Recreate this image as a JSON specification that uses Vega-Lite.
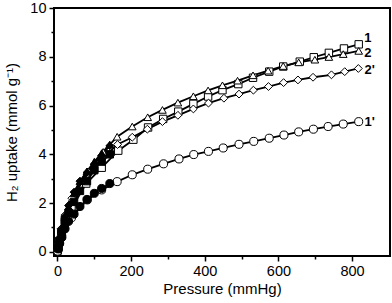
{
  "$schema": "https://vega.github.io/schema/vega-lite/v6.json",
  "width": 336,
  "height": 248,
  "autosize": "none",
  "padding": {"left": 54, "top": 8, "right": 2, "bottom": 47},
  "config": {
    "view": {"stroke": "black", "strokeWidth": 2},
    "font": "Liberation Sans",
    "axis": {"domain": false, "grid": false, "tickColor": "black", "tickWidth": 1.5, "labelColor": "black", "titleColor": "black", "labelFont": "Liberation Sans", "titleFont": "Liberation Sans", "labelFontSize": 14.5, "titleFontSize": 15, "titleFontWeight": "normal"}
  },
  "datasets": {
    "iso": [
      {"series": "1", "kind": "ads", "P": 0.5, "U": 0.05},
      {"series": "1", "kind": "ads", "P": 2, "U": 0.2},
      {"series": "1", "kind": "ads", "P": 5, "U": 0.45},
      {"series": "1", "kind": "ads", "P": 10, "U": 0.8},
      {"series": "1", "kind": "ads", "P": 20, "U": 1.3},
      {"series": "1", "kind": "ads", "P": 38, "U": 1.78},
      {"series": "1", "kind": "ads", "P": 78, "U": 2.8},
      {"series": "1", "kind": "ads", "P": 120, "U": 3.45},
      {"series": "1", "kind": "ads", "P": 165, "U": 4.15},
      {"series": "1", "kind": "ads", "P": 206, "U": 4.6},
      {"series": "1", "kind": "ads", "P": 246, "U": 5.1},
      {"series": "1", "kind": "ads", "P": 287, "U": 5.45},
      {"series": "1", "kind": "ads", "P": 328, "U": 5.75},
      {"series": "1", "kind": "ads", "P": 369, "U": 6.07},
      {"series": "1", "kind": "ads", "P": 409, "U": 6.37},
      {"series": "1", "kind": "ads", "P": 448, "U": 6.63},
      {"series": "1", "kind": "ads", "P": 491, "U": 6.88},
      {"series": "1", "kind": "ads", "P": 531, "U": 7.14},
      {"series": "1", "kind": "ads", "P": 575, "U": 7.39},
      {"series": "1", "kind": "ads", "P": 613, "U": 7.6},
      {"series": "1", "kind": "ads", "P": 658, "U": 7.8},
      {"series": "1", "kind": "ads", "P": 696, "U": 7.98},
      {"series": "1", "kind": "ads", "P": 737, "U": 8.16},
      {"series": "1", "kind": "ads", "P": 778, "U": 8.34},
      {"series": "1", "kind": "ads", "P": 818, "U": 8.51},
      {"series": "2", "kind": "ads", "P": 0.5, "U": 0.06},
      {"series": "2", "kind": "ads", "P": 2, "U": 0.25},
      {"series": "2", "kind": "ads", "P": 5, "U": 0.55},
      {"series": "2", "kind": "ads", "P": 10, "U": 0.95},
      {"series": "2", "kind": "ads", "P": 20, "U": 1.5},
      {"series": "2", "kind": "ads", "P": 40, "U": 2.2},
      {"series": "2", "kind": "ads", "P": 82, "U": 3.3},
      {"series": "2", "kind": "ads", "P": 124, "U": 4.1},
      {"series": "2", "kind": "ads", "P": 162, "U": 4.72},
      {"series": "2", "kind": "ads", "P": 203, "U": 5.14},
      {"series": "2", "kind": "ads", "P": 245, "U": 5.52},
      {"series": "2", "kind": "ads", "P": 285, "U": 5.82},
      {"series": "2", "kind": "ads", "P": 327, "U": 6.12},
      {"series": "2", "kind": "ads", "P": 369, "U": 6.38},
      {"series": "2", "kind": "ads", "P": 409, "U": 6.62},
      {"series": "2", "kind": "ads", "P": 448, "U": 6.83},
      {"series": "2", "kind": "ads", "P": 489, "U": 7.02},
      {"series": "2", "kind": "ads", "P": 531, "U": 7.24},
      {"series": "2", "kind": "ads", "P": 572, "U": 7.43},
      {"series": "2", "kind": "ads", "P": 613, "U": 7.62},
      {"series": "2", "kind": "ads", "P": 655, "U": 7.77},
      {"series": "2", "kind": "ads", "P": 699, "U": 7.88},
      {"series": "2", "kind": "ads", "P": 737, "U": 7.99},
      {"series": "2", "kind": "ads", "P": 776, "U": 8.11},
      {"series": "2", "kind": "ads", "P": 818, "U": 8.24},
      {"series": "2'", "kind": "ads", "P": 0.5, "U": 0.06},
      {"series": "2'", "kind": "ads", "P": 2, "U": 0.25},
      {"series": "2'", "kind": "ads", "P": 5, "U": 0.55},
      {"series": "2'", "kind": "ads", "P": 10, "U": 0.95},
      {"series": "2'", "kind": "ads", "P": 20, "U": 1.5},
      {"series": "2'", "kind": "ads", "P": 39, "U": 2.2},
      {"series": "2'", "kind": "ads", "P": 84, "U": 3.25},
      {"series": "2'", "kind": "ads", "P": 121, "U": 3.82},
      {"series": "2'", "kind": "ads", "P": 163, "U": 4.4},
      {"series": "2'", "kind": "ads", "P": 203, "U": 4.7},
      {"series": "2'", "kind": "ads", "P": 244, "U": 5.03},
      {"series": "2'", "kind": "ads", "P": 285, "U": 5.34},
      {"series": "2'", "kind": "ads", "P": 327, "U": 5.6},
      {"series": "2'", "kind": "ads", "P": 369, "U": 5.86},
      {"series": "2'", "kind": "ads", "P": 410, "U": 6.1},
      {"series": "2'", "kind": "ads", "P": 452, "U": 6.3},
      {"series": "2'", "kind": "ads", "P": 493, "U": 6.47},
      {"series": "2'", "kind": "ads", "P": 532, "U": 6.63},
      {"series": "2'", "kind": "ads", "P": 573, "U": 6.78},
      {"series": "2'", "kind": "ads", "P": 614, "U": 6.94},
      {"series": "2'", "kind": "ads", "P": 653, "U": 7.05},
      {"series": "2'", "kind": "ads", "P": 694, "U": 7.16},
      {"series": "2'", "kind": "ads", "P": 744, "U": 7.26},
      {"series": "2'", "kind": "ads", "P": 780, "U": 7.39},
      {"series": "2'", "kind": "ads", "P": 817, "U": 7.52},
      {"series": "1'", "kind": "ads", "P": 0.5, "U": 0.03},
      {"series": "1'", "kind": "ads", "P": 2, "U": 0.15},
      {"series": "1'", "kind": "ads", "P": 5, "U": 0.35},
      {"series": "1'", "kind": "ads", "P": 10, "U": 0.6},
      {"series": "1'", "kind": "ads", "P": 20, "U": 0.95},
      {"series": "1'", "kind": "ads", "P": 38, "U": 1.4},
      {"series": "1'", "kind": "ads", "P": 81, "U": 2.13},
      {"series": "1'", "kind": "ads", "P": 120, "U": 2.54},
      {"series": "1'", "kind": "ads", "P": 162, "U": 2.88},
      {"series": "1'", "kind": "ads", "P": 203, "U": 3.16},
      {"series": "1'", "kind": "ads", "P": 245, "U": 3.39},
      {"series": "1'", "kind": "ads", "P": 288, "U": 3.61},
      {"series": "1'", "kind": "ads", "P": 330, "U": 3.81},
      {"series": "1'", "kind": "ads", "P": 370, "U": 3.99},
      {"series": "1'", "kind": "ads", "P": 410, "U": 4.12},
      {"series": "1'", "kind": "ads", "P": 450, "U": 4.26},
      {"series": "1'", "kind": "ads", "P": 493, "U": 4.41},
      {"series": "1'", "kind": "ads", "P": 533, "U": 4.53},
      {"series": "1'", "kind": "ads", "P": 575, "U": 4.66},
      {"series": "1'", "kind": "ads", "P": 615, "U": 4.79},
      {"series": "1'", "kind": "ads", "P": 655, "U": 4.92},
      {"series": "1'", "kind": "ads", "P": 695, "U": 5.03},
      {"series": "1'", "kind": "ads", "P": 735, "U": 5.14},
      {"series": "1'", "kind": "ads", "P": 776, "U": 5.24},
      {"series": "1'", "kind": "ads", "P": 818, "U": 5.34},
      {"series": "1", "kind": "des", "P": 2, "U": 0.15},
      {"series": "1", "kind": "des", "P": 6, "U": 0.45},
      {"series": "1", "kind": "des", "P": 12, "U": 0.8},
      {"series": "1", "kind": "des", "P": 20, "U": 1.2},
      {"series": "1", "kind": "des", "P": 30, "U": 1.6},
      {"series": "1", "kind": "des", "P": 45, "U": 2.05},
      {"series": "1", "kind": "des", "P": 61, "U": 2.5},
      {"series": "1", "kind": "des", "P": 80, "U": 2.9},
      {"series": "1", "kind": "des", "P": 100, "U": 3.35},
      {"series": "1", "kind": "des", "P": 120, "U": 3.7},
      {"series": "1", "kind": "des", "P": 142, "U": 4.0},
      {"series": "2", "kind": "des", "P": 2, "U": 0.2},
      {"series": "2", "kind": "des", "P": 6, "U": 0.55},
      {"series": "2", "kind": "des", "P": 12, "U": 0.95},
      {"series": "2", "kind": "des", "P": 20, "U": 1.4},
      {"series": "2", "kind": "des", "P": 30, "U": 1.85},
      {"series": "2", "kind": "des", "P": 45, "U": 2.4},
      {"series": "2", "kind": "des", "P": 61, "U": 2.9},
      {"series": "2", "kind": "des", "P": 80, "U": 3.3},
      {"series": "2", "kind": "des", "P": 100, "U": 3.7},
      {"series": "2", "kind": "des", "P": 120, "U": 4.05},
      {"series": "2", "kind": "des", "P": 142, "U": 4.4},
      {"series": "2'", "kind": "des", "P": 2, "U": 0.2},
      {"series": "2'", "kind": "des", "P": 6, "U": 0.55},
      {"series": "2'", "kind": "des", "P": 12, "U": 0.95},
      {"series": "2'", "kind": "des", "P": 20, "U": 1.45},
      {"series": "2'", "kind": "des", "P": 30, "U": 1.9},
      {"series": "2'", "kind": "des", "P": 45, "U": 2.45},
      {"series": "2'", "kind": "des", "P": 61, "U": 2.9},
      {"series": "2'", "kind": "des", "P": 80, "U": 3.25},
      {"series": "2'", "kind": "des", "P": 100, "U": 3.6},
      {"series": "2'", "kind": "des", "P": 120, "U": 3.95},
      {"series": "2'", "kind": "des", "P": 142, "U": 4.35},
      {"series": "1'", "kind": "des", "P": 2, "U": 0.12},
      {"series": "1'", "kind": "des", "P": 6, "U": 0.35},
      {"series": "1'", "kind": "des", "P": 12, "U": 0.6},
      {"series": "1'", "kind": "des", "P": 20, "U": 0.95},
      {"series": "1'", "kind": "des", "P": 30, "U": 1.25},
      {"series": "1'", "kind": "des", "P": 45, "U": 1.55},
      {"series": "1'", "kind": "des", "P": 61, "U": 1.86},
      {"series": "1'", "kind": "des", "P": 80, "U": 2.15},
      {"series": "1'", "kind": "des", "P": 100, "U": 2.4},
      {"series": "1'", "kind": "des", "P": 120, "U": 2.6},
      {"series": "1'", "kind": "des", "P": 142, "U": 2.8}
    ],
    "labels": [
      {"label": "1", "P": 833, "U": 8.78},
      {"label": "2", "P": 833, "U": 8.17},
      {"label": "2'", "P": 834, "U": 7.45},
      {"label": "1'", "P": 834, "U": 5.33}
    ]
  },
  "encoding": {
    "x": {"field": "P", "type": "quantitative", "scale": {"domain": [-9.5, 903], "nice": false, "zero": false},
      "axis": {"title": "Pressure (mmHg)", "values": [0, 100, 200, 300, 400, 500, 600, 700, 800], "labelExpr": "datum.value % 200 === 0 ? datum.label : ''", "tickSize": {"condition": {"test": "datum.value % 200 === 0", "value": 5}, "value": 3}, "labelPadding": 3, "titlePadding": 4}},
    "y": {"field": "U", "type": "quantitative", "scale": {"domain": [-0.17, 10], "nice": false, "zero": false},
      "axis": {"title": "H₂ uptake (mmol g⁻¹)", "values": [0, 1, 2, 3, 4, 5, 6, 7, 8, 9, 10], "labelExpr": "datum.value % 2 === 0 ? datum.label : ''", "tickSize": {"condition": {"test": "datum.value % 2 === 0", "value": 5}, "value": 3}, "labelPadding": 3, "titlePadding": 10}}
  },
  "layer": [
    {
      "data": {"name": "iso"},
      "transform": [{"filter": "datum.kind === 'ads'"}],
      "mark": {"type": "line", "color": "black", "strokeWidth": 1.8},
      "encoding": {"detail": {"field": "series"}}
    },
    {
      "data": {"name": "iso"},
      "transform": [{"filter": "datum.kind === 'des'"}],
      "mark": {"type": "line", "color": "black", "strokeWidth": 1.8},
      "encoding": {"detail": {"field": "series"}}
    },
    {
      "data": {"name": "iso"},
      "transform": [{"filter": "datum.kind === 'ads'"}],
      "mark": {"type": "point", "filled": false, "fill": "white", "fillOpacity": 1, "stroke": "black", "strokeWidth": 1, "opacity": 1},
      "encoding": {
        "shape": {"field": "series", "type": "nominal", "scale": {"domain": ["1", "2", "2'", "1'"], "range": ["square", "triangle-up", "diamond", "circle"]}, "legend": null},
        "size": {"field": "series", "type": "nominal", "scale": {"domain": ["1", "2", "2'", "1'"], "range": [55, 65, 70, 44]}, "legend": null}
      }
    },
    {
      "data": {"name": "iso"},
      "transform": [{"filter": "datum.kind === 'des'"}],
      "mark": {"type": "point", "filled": true, "fill": "black", "fillOpacity": 1, "stroke": "black", "strokeWidth": 1, "opacity": 1},
      "encoding": {
        "shape": {"field": "series", "type": "nominal", "scale": {"domain": ["1", "2", "2'", "1'"], "range": ["square", "triangle-up", "diamond", "circle"]}, "legend": null},
        "size": {"field": "series", "type": "nominal", "scale": {"domain": ["1", "2", "2'", "1'"], "range": [55, 65, 70, 44]}, "legend": null}
      }
    },
    {
      "data": {"name": "labels"},
      "mark": {"type": "text", "align": "left", "baseline": "middle", "fontWeight": "bold", "fontSize": 13, "font": "Liberation Sans", "color": "black"},
      "encoding": {"text": {"field": "label"}}
    }
  ]
}
